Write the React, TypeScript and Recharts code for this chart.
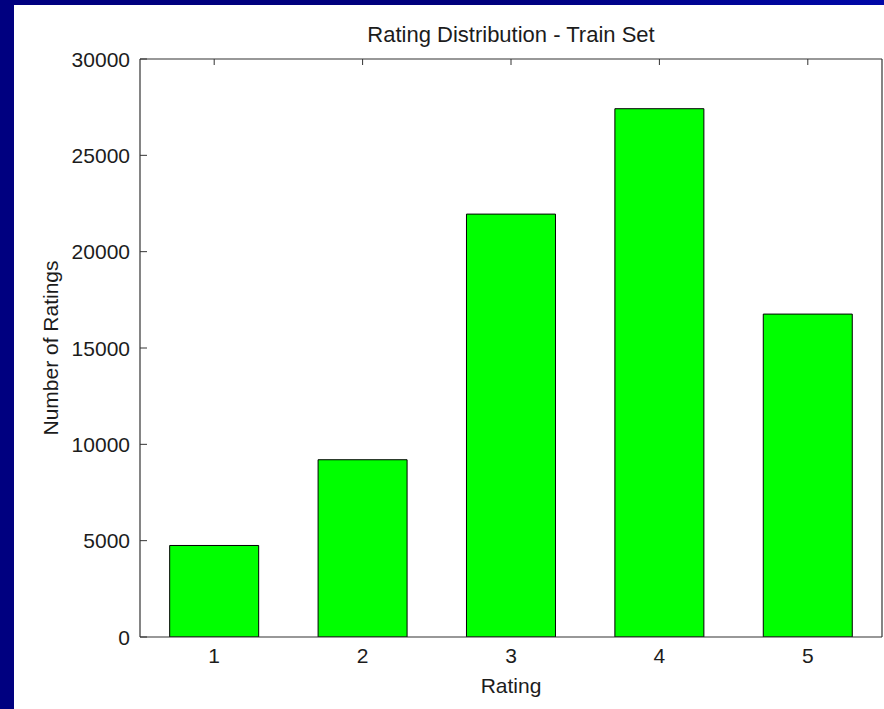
import { Bar, BarChart, Label, XAxis, YAxis } from "recharts";

const RATINGS = ["1", "2", "3", "4", "5"];
const COUNTS = [4750, 9200, 21950, 27420, 16760];
const Y_TICKS = [0, 5000, 10000, 15000, 20000, 25000, 30000];

const TITLE = "Rating Distribution - Train Set";
const X_TITLE = "Rating";
const Y_TITLE = "Number of Ratings";

const data = RATINGS.map((rating, i) => ({ rating, count: COUNTS[i] }));

const FONT = '"Liberation Sans", Arial, Helvetica, sans-serif';
const TEXT = "#1c1c1c";
const AXIS = "#333333";
const Y_GAP = 10;
const X_GAP = 11;
const TICK_LEN = 7;

// left ticks: label outside, small mark pointing into the plot
const LeftTick = (props: any) => {
  const { x, y, payload } = props;
  return (
    <g>
      <line x1={x + Y_GAP} x2={x + Y_GAP + TICK_LEN} y1={y} y2={y} stroke={AXIS} />
      <text x={x} y={y} dy="0.36em" textAnchor="end" fill={TEXT} fontSize={21} fontFamily={FONT}>
        {payload.value}
      </text>
    </g>
  );
};

const RightTick = (props: any) => {
  const { x, y } = props;
  return <line x1={x} x2={x - TICK_LEN} y1={y} y2={y} stroke={AXIS} />;
};

const TopTick = (props: any) => {
  const { x, y } = props;
  return <line x1={x} x2={x} y1={y} y2={y + TICK_LEN - 1} stroke={AXIS} />;
};

const BottomTick = (props: any) => {
  const { x, y, payload } = props;
  return (
    <text x={x} y={y} dy="0.71em" textAnchor="middle" fill={TEXT} fontSize={21} fontFamily={FONT}>
      {payload.value}
    </text>
  );
};

const TitleLabel = ({ viewBox }: any) => (
  <text
    x={viewBox.x + viewBox.width / 2}
    y={viewBox.y + 37}
    textAnchor="middle"
    fill={TEXT}
    fontSize={22}
    fontFamily={FONT}
  >
    {TITLE}
  </text>
);

const XTitleLabel = ({ viewBox }: any) => (
  <text
    x={viewBox.x + viewBox.width / 2}
    y={viewBox.y + 56}
    textAnchor="middle"
    fill={TEXT}
    fontSize={21}
    fontFamily={FONT}
  >
    {X_TITLE}
  </text>
);

const YTitleLabel = ({ viewBox }: any) => {
  const cx = viewBox.x + 44;
  const cy = viewBox.y + viewBox.height / 2;
  return (
    <text
      x={cx}
      y={cy}
      transform={`rotate(-90 ${cx} ${cy})`}
      textAnchor="middle"
      fill={TEXT}
      fontSize={21}
      fontFamily={FONT}
    >
      {Y_TITLE}
    </text>
  );
};

export default function App() {
  return (
    <div
      style={{
        position: "relative",
        width: 884,
        height: 709,
        background: "linear-gradient(90deg, #000080 0%, #00007c 55%, #0008a8 100%)",
        overflow: "hidden",
      }}
    >
      <style>{"body{margin:0}"}</style>
      <div style={{ position: "absolute", left: 14, top: 5, width: 870, height: 704, background: "#ffffff" }}>
        <BarChart
          width={870}
          height={704}
          data={data}
          margin={{ top: 0, right: 0, bottom: 0, left: 0 }}
          barCategoryGap="20%"
        >
          <XAxis
            xAxisId="top"
            orientation="top"
            dataKey="rating"
            height={54}
            axisLine={{ stroke: AXIS, strokeWidth: 1.2 }}
            tickLine={false}
            tickSize={0}
            tickMargin={0}
            tick={<TopTick />}
            interval={0}
          >
            <Label content={<TitleLabel />} />
          </XAxis>
          <XAxis
            xAxisId="bottom"
            dataKey="rating"
            height={72}
            axisLine={{ stroke: AXIS, strokeWidth: 1.2 }}
            tickLine={false}
            tickSize={0}
            tickMargin={X_GAP}
            tick={<BottomTick />}
            interval={0}
          >
            <Label content={<XTitleLabel />} />
          </XAxis>
          <YAxis
            yAxisId="left"
            width={126}
            domain={[0, 30000]}
            ticks={Y_TICKS}
            allowDataOverflow
            axisLine={{ stroke: AXIS, strokeWidth: 1.2 }}
            tickLine={false}
            tickSize={0}
            tickMargin={Y_GAP}
            tick={<LeftTick />}
            interval={0}
          >
            <Label content={<YTitleLabel />} />
          </YAxis>
          <YAxis
            yAxisId="right"
            orientation="right"
            width={2}
            domain={[0, 30000]}
            ticks={Y_TICKS}
            axisLine={{ stroke: AXIS, strokeWidth: 1.2 }}
            tickLine={false}
            tickSize={0}
            tickMargin={0}
            tick={<RightTick />}
            interval={0}
          />
          <Bar
            xAxisId="bottom"
            yAxisId="left"
            dataKey="count"
            fill="#00ff00"
            stroke="#000000"
            strokeWidth={1}
            isAnimationActive={false}
          />
        </BarChart>
      </div>
    </div>
  );
}
